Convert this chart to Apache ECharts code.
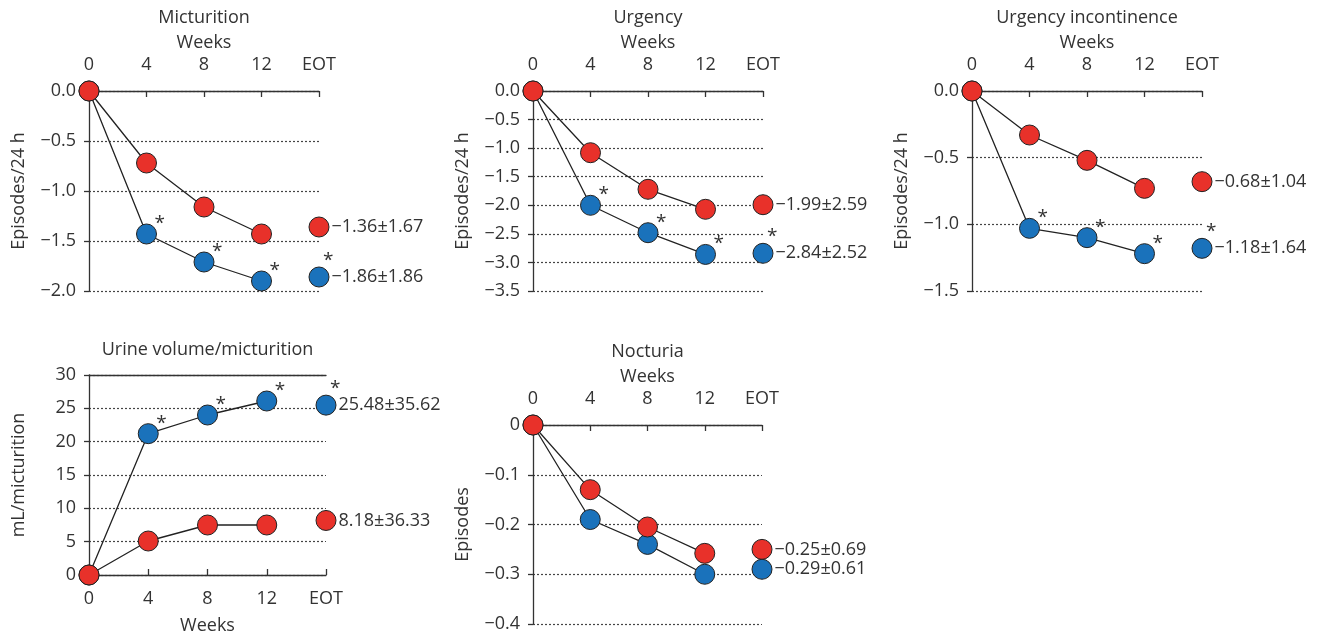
<!DOCTYPE html>
<html>
<head>
<meta charset="utf-8">
<script src="https://cdn.jsdelivr.net/npm/echarts@6/dist/echarts.min.js"></script>
<style>
  html, body { margin: 0; padding: 0; background: #fff; }
  #chart { width: 1329px; height: 639px; }
</style>
</head>
<body>
<div id="chart"></div>
<script>
// categories
const weeks = ['0', '4', '8', '12', 'EOT']

// Micturition
const mictRed = [0, -0.72, -1.16, -1.43]
const mictBlue = [0, -1.43, -1.71, -1.9]
const mictEot = [-1.36, -1.86]
const mictEotText = ['−1.36±1.67', '−1.86±1.86']

// Urgency
const urgRed = [0, -1.08, -1.72, -2.07]
const urgBlue = [0, -2.0, -2.48, -2.86]
const urgEot = [-1.99, -2.84]
const urgEotText = ['−1.99±2.59', '−2.84±2.52']

// Urgency incontinence
const uiRed = [0, -0.33, -0.52, -0.73]
const uiBlue = [0, -1.03, -1.1, -1.22]
const uiEot = [-0.68, -1.18]
const uiEotText = ['−0.68±1.04', '−1.18±1.64']

// Urine volume/micturition
const volRed = [0, 5.1, 7.5, 7.5]
const volBlue = [0, 21.2, 24.0, 26.1]
const volEot = [8.18, 25.48]
const volEotText = ['8.18±36.33', '25.48±35.62']

// Nocturia
const nocRed = [0, -0.13, -0.205, -0.258]
const nocBlue = [0, -0.19, -0.24, -0.3]
const nocEot = [-0.25, -0.29]
const nocEotText = ['−0.25±0.69', '−0.29±0.61']

// which blue points carry an asterisk (indices into weeks)
const starIdx = [1, 2, 3, 4]

const RED = '#e8312a'
const BLUE = '#1a72bb'
const TXT = '#333'
const FONT = 'Open Sans'

const fmt1 = v => (v === 0 ? '0.0' : '−' + Math.abs(v).toFixed(1))
const fmtNoc = v => (v === 0 ? '0' : '−' + Math.abs(v).toFixed(1))

const panels = [
  { title: 'Micturition', yName: 'Episodes/24 h', red: mictRed, blue: mictBlue, eot: mictEot, eotText: mictEotText,
    min: -2, max: 0, step: 0.5, fmt: fmt1, stars: true, top: true,
    grid: { left: 89, top: 91, width: 230, height: 200 } },
  { title: 'Urgency', yName: 'Episodes/24 h', red: urgRed, blue: urgBlue, eot: urgEot, eotText: urgEotText,
    min: -3.5, max: 0, step: 0.5, fmt: fmt1, stars: true, top: true,
    grid: { left: 533, top: 91, width: 230, height: 200 } },
  { title: 'Urgency incontinence', yName: 'Episodes/24 h', red: uiRed, blue: uiBlue, eot: uiEot, eotText: uiEotText,
    min: -1.5, max: 0, step: 0.5, fmt: fmt1, stars: true, top: true,
    grid: { left: 972, top: 91, width: 230, height: 200 } },
  { title: 'Urine volume/micturition', yName: 'mL/micturition', red: volRed, blue: volBlue, eot: volEot, eotText: volEotText,
    min: 0, max: 30, step: 5, fmt: v => String(v), stars: true, top: false,
    grid: { left: 89, top: 375, width: 237, height: 200 } },
  { title: 'Nocturia', yName: 'Episodes', red: nocRed, blue: nocBlue, eot: nocEot, eotText: nocEotText,
    min: -0.4, max: 0, step: 0.1, fmt: fmtNoc, stars: false, top: true,
    grid: { left: 533, top: 425, width: 229, height: 199 } }
]

const grids = []
const xAxes = []
const yAxes = []
const titles = []
const series = []

const markerStyle = color => ({ color: color, borderColor: '#222', borderWidth: 1, opacity: 1 })

panels.forEach((p, i) => {
  grids.push(p.grid)

  titles.push({
    text: p.title,
    left: p.grid.left + p.grid.width / 2,
    top: p.top ? p.grid.top - 82 : p.grid.top - 34,
    textAlign: 'center',
    padding: 0,
    textStyle: { fontFamily: FONT, fontSize: 18, fontWeight: 'normal', color: TXT }
  })

  const xi = xAxes.length
  xAxes.push({
    type: 'category',
    gridIndex: i,
    data: weeks,
    boundaryGap: false,
    position: p.top ? 'top' : 'bottom',
    name: 'Weeks',
    nameLocation: 'middle',
    nameGap: p.top ? 39 : 42,
    nameTextStyle: { fontFamily: FONT, fontSize: 18, color: TXT },
    axisLine: { lineStyle: { color: '#333', width: 1.3 } },
    axisTick: { inside: true, length: 6, lineStyle: { color: '#333', width: 1.3 } },
    axisLabel: { margin: p.top ? 17 : 15, fontFamily: FONT, fontSize: 18, color: TXT },
    splitLine: { show: false }
  })
  if (!p.top) {
    // solid line closing the top of the panel
    xAxes.push({
      type: 'category',
      gridIndex: i,
      data: weeks,
      boundaryGap: false,
      position: 'top',
      axisLine: { lineStyle: { color: '#333', width: 1.3 } },
      axisTick: { show: false },
      axisLabel: { show: false }
    })
  }

  yAxes.push({
    type: 'value',
    gridIndex: i,
    min: p.min,
    max: p.max,
    interval: p.step,
    name: p.yName,
    nameLocation: 'middle',
    nameGap: 61,
    nameTextStyle: { fontFamily: FONT, fontSize: 18, color: TXT },
    axisLine: { show: true, lineStyle: { color: '#333', width: 1.3 } },
    axisTick: { show: true, length: 5, lineStyle: { color: '#333', width: 1.3 } },
    axisLabel: { margin: 13, fontFamily: FONT, fontSize: 18, color: TXT, formatter: p.fmt },
    splitLine: { show: true, lineStyle: { color: '#444', width: 1.2, type: [2, 2] } }
  })

  const lineBase = {
    type: 'line',
    xAxisIndex: xi,
    yAxisIndex: i,
    symbol: 'circle',
    symbolSize: 20,
    lineStyle: { color: '#222', width: 1.3 },
    animation: false,
    silent: true
  }
  series.push(Object.assign({}, lineBase, { data: p.blue, itemStyle: markerStyle(BLUE) }))
  series.push(Object.assign({}, lineBase, { data: p.red, itemStyle: markerStyle(RED) }))

  // EOT points with their mean ± SD text
  const eotColors = [RED, BLUE]
  p.eot.forEach((v, k) => {
    series.push({
      type: 'scatter',
      xAxisIndex: xi,
      yAxisIndex: i,
      symbol: 'circle',
      symbolSize: 20,
      itemStyle: markerStyle(eotColors[k]),
      label: {
        show: true,
        position: 'right',
        distance: 2,
        formatter: p.eotText[k],
        fontFamily: FONT,
        fontSize: 18,
        color: TXT
      },
      data: [[4, v]],
      animation: false,
      silent: true
    })
  })

  // asterisks next to the blue points
  if (p.stars) {
    const blueAll = p.blue.concat([p.eot[1]])
    series.push({
      type: 'scatter',
      xAxisIndex: xi,
      yAxisIndex: i,
      symbol: 'circle',
      symbolSize: 20,
      itemStyle: { color: 'rgba(0,0,0,0)', opacity: 1 },
      label: {
        show: true,
        position: [18, -10],
        formatter: '*',
        fontFamily: FONT,
        fontSize: 19,
        color: TXT
      },
      data: starIdx.map(j => ({
        value: [j, blueAll[j]],
        // the EOT asterisk sits more above the dot
        label: j === 4 ? { position: [14, -16] } : undefined
      })),
      z: 5,
      animation: false,
      silent: true
    })
  }
})

const chart = echarts.init(document.getElementById('chart'))
chart.setOption({
  backgroundColor: '#fff',
  animation: false,
  title: titles,
  grid: grids,
  xAxis: xAxes,
  yAxis: yAxes,
  series: series
})
</script>
</body>
</html>
